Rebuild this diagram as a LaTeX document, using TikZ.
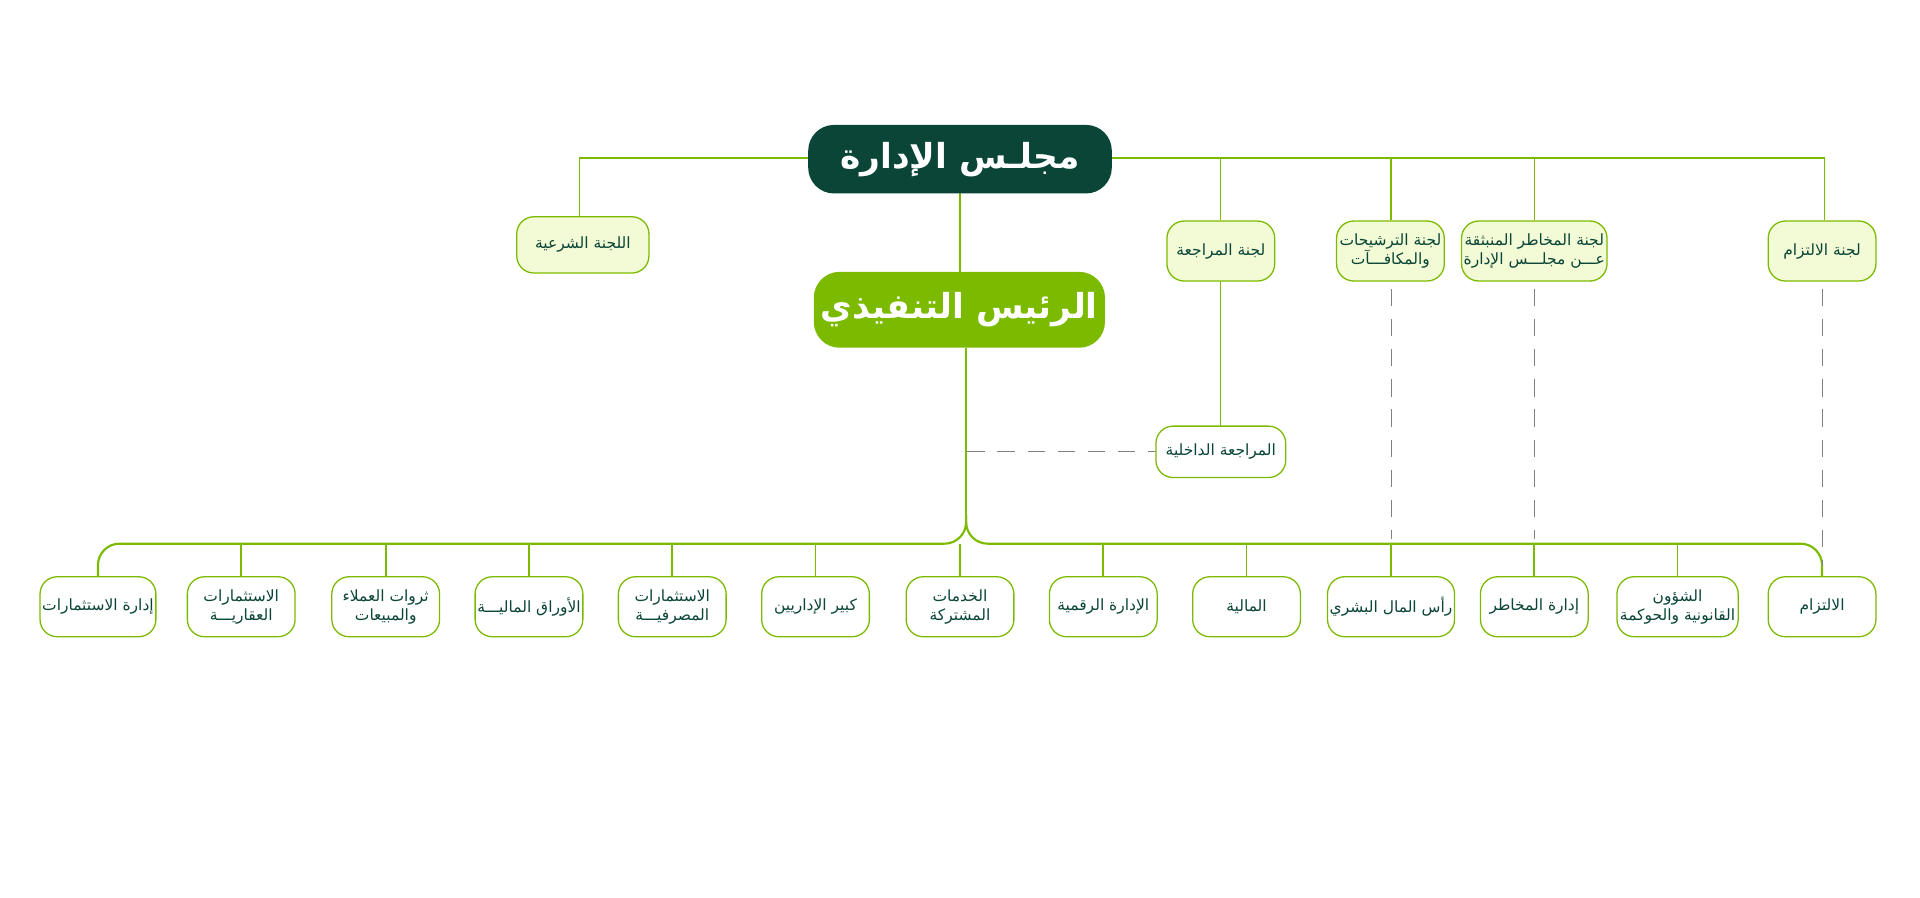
\documentclass[tikz,border=0pt]{standalone}
\usepackage{fontspec}
\newfontfamily\arabicfont[Script=Arabic]{DejaVu Sans}
\TeXXeTstate=1
\newcommand{\ar}[1]{\beginR #1\endR}
\definecolor{dk}{HTML}{0A4537}
\definecolor{lg}{HTML}{7CBA00}
\definecolor{pale}{HTML}{F2FBD6}
\begin{document}
\begin{tikzpicture}[x=0.02cm,y=-0.02cm,
 box/.style={draw=lg,line width=0.6pt,rounded corners=8pt,minimum width=1.76cm,minimum height=0.98cm,align=center,font=\arabicfont\fontsize{7.2}{9}\selectfont,text=dk,inner sep=1pt},
 com/.style={box,fill=pale},
 bot/.style={box,fill=white},
 ln/.style={lg,line width=0.6pt},
 dsh/.style={gray,line width=0.4pt,dash pattern=on 8pt off 6pt}]
\useasboundingbox (0,0) rectangle (1568,733);
% lines
\draw[ln] (473,177) -- (473,129) -- (1490,129) -- (1490,180);
\foreach \x in {997,1136,1253}{\draw[ln] (\x,129) -- (\x,180);}
\draw[ln,line width=1pt] (784,158) -- (784,222);
\draw[ln,line width=1pt] (789,284) -- (789,420);
\draw[ln,line width=1pt,rounded corners=10pt] (789,420) -- (789,444) -- (80,444) -- (80,471);
\draw[ln,line width=1pt,rounded corners=10pt] (789,420) -- (789,444) -- (1488,444) -- (1488,471);
\foreach \x in {197,315,432,549,666,784,901,1018,1136,1253,1370}{\draw[ln,line width=0.8pt] (\x,444) -- (\x,471);}
\draw[ln] (997,229) -- (997,348);
\draw[dsh] (790,369) -- (944,369);
\draw[dsh] (1136,236) -- (1136,440);
\draw[dsh] (1253,236) -- (1253,440);
\draw[dsh] (1488,236) -- (1488,462);
% main
\node[fill=dk,rounded corners=12pt,minimum width=4.96cm,minimum height=1.12cm,text=white,font=\arabicfont\bfseries\fontsize{16}{20}\selectfont] (board) at (784,130) {\ar{مجلـس الإدارة}};
\node[fill=lg,rounded corners=12pt,minimum width=4.74cm,minimum height=1.24cm,text=white,font=\arabicfont\bfseries\fontsize{16}{20}\selectfont] (ceo) at (783.5,253) {\ar{الرئيس التنفيذي}};
% committees
\node[com,minimum width=2.16cm,minimum height=0.92cm] (sh) at (476,200) {\ar{اللجنة الشرعية}};
\node[com] (au) at (997,205) {\ar{لجنة المراجعة}};
\node[com] (nom) at (1135.5,205) {\ar{لجنة الترشيحات}\\\ar{والمكافـــآت}};
\node[com,minimum width=2.2cm] (risk) at (1253,205) {\ar{لجنة المخاطر المنبثقة}\\\ar{عـــن مجلـــس الإدارة}};
\node[com] (comp) at (1488,205) {\ar{لجنة الالتزام}};
\node[bot,minimum width=2.12cm,minimum height=0.84cm] (ia) at (997,369) {\ar{المراجعة الداخلية}};
% bottom
\node[bot] (b1) at (80,495.5) {\ar{إدارة الاستثمارات}};
\node[bot] (b2) at (197,495.5) {\ar{الاستثمارات}\\\ar{العقاريـــة}};
\node[bot] (b3) at (315,495.5) {\ar{ثروات العملاء}\\\ar{والمبيعات}};
\node[bot] (b4) at (432,495.5) {\ar{الأوراق الماليـــة}};
\node[bot] (b5) at (549,495.5) {\ar{الاستثمارات}\\\ar{المصرفيـــة}};
\node[bot] (b6) at (666,495.5) {\ar{كبير الإداريين}};
\node[bot] (b7) at (784,495.5) {\ar{الخدمات}\\\ar{المشتركة}};
\node[bot] (b8) at (901,495.5) {\ar{الإدارة الرقمية}};
\node[bot] (b9) at (1018,495.5) {\ar{المالية}};
\node[bot] (b10) at (1136,495.5) {\ar{رأس المال البشري}};
\node[bot] (b11) at (1253,495.5) {\ar{إدارة المخاطر}};
\node[bot,minimum width=1.98cm] (b12) at (1370,495.5) {\ar{الشؤون}\\\ar{القانونية والحوكمة}};
\node[bot] (b13) at (1488,495.5) {\ar{الالتزام}};
\end{tikzpicture}
\end{document}
